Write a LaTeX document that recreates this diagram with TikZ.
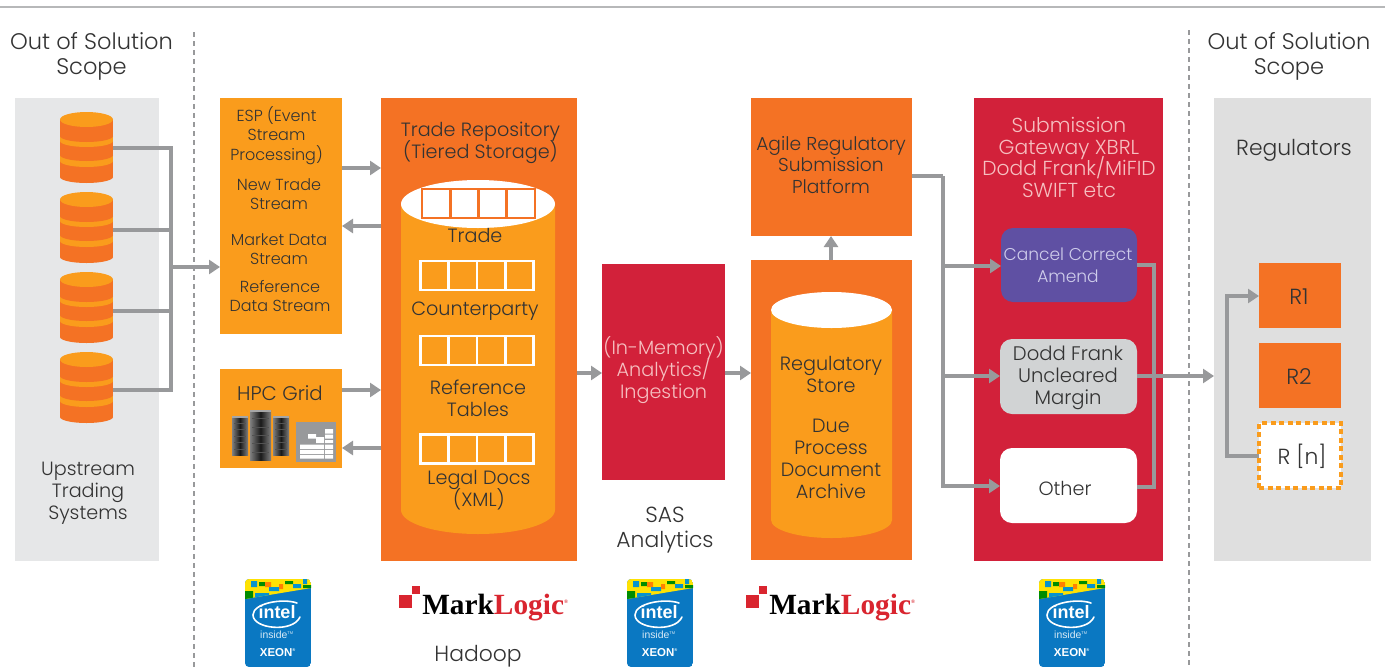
\documentclass[tikz,border=0pt]{standalone}
\usepackage{fontspec}
\setmainfont{Poppins Light}
\newfontfamily\logofont{Liberation Serif}
\newfontfamily\badgefont{Liberation Sans}
\usetikzlibrary{arrows.meta}
\definecolor{cOrange}{HTML}{F47224}
\definecolor{cAmber}{HTML}{FA9C1C}
\definecolor{cCrimson}{HTML}{D2213A}
\definecolor{cPanelA}{HTML}{E6E7E8}
\definecolor{cPanelB}{HTML}{DFDFDF}
\definecolor{cLine}{HTML}{98999B}
\definecolor{cText}{HTML}{333333}
\definecolor{cPink}{HTML}{F6BFC0}
\definecolor{cPurple}{HTML}{5F50A3}
\definecolor{cSilver}{HTML}{D1D3D4}
\definecolor{cLav}{HTML}{CFCDEB}
\definecolor{cBlue}{HTML}{0A78C2}
\definecolor{cLogoRed}{HTML}{D9252F}
\newlength\pu \setlength\pu{.75pt}
\newcommand{\txtA}{\fontsize{16.4}{18.75}\selectfont}
\newcommand{\txtB}{\fontsize{14.4}{16.4}\selectfont}
\newcommand{\txtC}{\fontsize{12}{14.4}\selectfont}
\newcommand{\rackw}{16}
\newcommand{\rackh}{39}
\tikzset{
 x=.75pt,y=-.75pt,
 panelbox/.style={anchor=north west,inner sep=0pt,outer sep=0pt},
 lab/.style={inner sep=0pt,outer sep=0pt,align=center,text=cText,font=\txtB,execute at begin node={\lineskiplimit=-30pt\relax}},
 conn/.style={draw=cLine,line width=2.3pt,line join=miter},
 arrowed/.style={conn,-{Triangle[length=8.25pt,width=10.5pt]}},
 tabgrid/.style={line width=2pt},
 dbstack/.pic={
   \fill[cOrange] (0,44) rectangle (53,65);
   \fill[cOrange] (0,65) arc[start angle=180,end angle=360,x radius=26.5,y radius=-6] -- cycle;
   \fill[cAmber] (0,29) rectangle (53,49);
   \fill[cAmber] (0,49) arc[start angle=180,end angle=360,x radius=26.5,y radius=-6] -- cycle;
   \fill[cOrange] (0,25) rectangle (53,43);
   \fill[cOrange] (0,43) arc[start angle=180,end angle=360,x radius=26.5,y radius=-6] -- cycle;
   \fill[cAmber] (0,10) rectangle (53,29);
   \fill[cAmber] (0,29) arc[start angle=180,end angle=360,x radius=26.5,y radius=-6] -- cycle;
   \fill[cOrange] (0,7.5) rectangle (53,24);
   \fill[cOrange] (0,24) arc[start angle=180,end angle=360,x radius=26.5,y radius=-6] -- cycle;
   \fill[cAmber] (26.5,7.5) ellipse[x radius=26.5,y radius=7.5];
 },
 tabrow/.pic={
   \draw[tabgrid,pic actions] (0,0) rectangle (113,29);
   \draw[tabgrid,pic actions] (28.25,0) -- (28.25,29) (56.5,0) -- (56.5,29) (84.75,0) -- (84.75,29);
 },
 rackunit/.pic={
   \fill[left color=black!50,right color=black!50,middle color=black!90] (0,0) rectangle (\rackw,\rackh);
   \fill[black!35] (0,0) rectangle (\rackw,1.5);
   \foreach \k in {1,...,5}{\fill[black!68] (2,\k*\rackh/6) rectangle (\rackw-2,\k*\rackh/6+1);}
 },
 xeonbadge/.pic={
   \begin{scope}
   \clip[rounded corners=3pt] (0,0) rectangle (66,88);
   \fill[cBlue] (0,0) rectangle (66,88);
   \clip (0,0) -- (66,0) -- (66,9) -- (0,20) -- cycle;
   \fill[yellow!85!orange] (0,0) rectangle (66,20);
   \fill[green!55!black] (0,12) rectangle (8,20) (14,3) rectangle (20,7) (40,2) rectangle (48,5) (58,6) rectangle (66,9);
   \fill[cBlue!80!cyan] (6,2) rectangle (12,8) (24,8) rectangle (34,12) (48,5) rectangle (56,9) (10,14) rectangle (24,18) (58,0) rectangle (62,5);
   \fill[orange] (20,3) rectangle (26,8) (34,5) rectangle (38,10);
   \end{scope}
   \draw[white,line width=1.2pt,line cap=round] (52,24) .. controls (38,19) and (8,24) .. (8,36) .. controls (8,50) and (48,54) .. (55,38);
   \node[inner sep=0pt,text=white,font=\badgefont\bfseries\fontsize{13.5}{14}\selectfont] (-w) at (32,33) {intel};
   \node[inner sep=0pt,text=white!85!cBlue,font=\badgefont\fontsize{7.8}{8}\selectfont] (-i) at (32,56) {inside\textsuperscript{\fontsize{3}{3}\selectfont TM}};
   \node[inner sep=0pt,text=white,font=\badgefont\bfseries\fontsize{8.6}{9}\selectfont] (-x) at (33,74) {XEON\textsuperscript{\fontsize{3}{3}\selectfont ®}};
 },
 mllogo/.pic={
   \fill[cLogoRed] (0,9) rectangle (13,22);
   \fill[cLogoRed] (13,0) rectangle (21,8);
   \node[anchor=base west,inner sep=0pt,font=\logofont\bfseries\fontsize{22}{23}\selectfont] (-m) at (23,28) {Mark\textcolor{cLogoRed}{Logic}\textcolor{cLogoRed}{\textsuperscript{\fontsize{4}{4}\selectfont ®}}};
 },
}
\begin{document}
\begin{tikzpicture}
\useasboundingbox (0,0) rectangle (1385,668);
\fill[white] (0,0) rectangle (1385,668);
% rules
\coordinate (ruleL) at (0,7); \coordinate (ruleR) at (1385,7);
\draw[cLine!70,line width=1.9pt] (ruleL) -- (ruleR);
\coordinate (d1a) at (194,32); \coordinate (d1b) at (194,668);
\coordinate (d2a) at (1189,30); \coordinate (d2b) at (1189,668);
% panels
\node[panelbox,fill=cPanelA,minimum width=144\pu,minimum height=463\pu] (upp) at (15,98) {};
\node[panelbox,fill=cPanelB,minimum width=157\pu,minimum height=463\pu] (regp) at (1214,98) {};
\draw[cLine,line width=2.2pt,dash pattern=on 5\pu off 4\pu] (d1a) -- (d1b);
\draw[cLine,line width=2.2pt,dash pattern=on 5\pu off 4\pu] (d2a) -- (d2b);
\node[lab,font=\fontsize{16.9}{18.75}\selectfont] (oosl) at (91.5,56.5) {Out of Solution\\Scope};
\node[lab,font=\fontsize{16.9}{18.75}\selectfont] (oosr) at (1289,56.5) {Out of Solution\\Scope};
% stacks
\foreach \yy in {112,192,272,352}{ \pic at (60,\yy) {dbstack}; }
\coordinate (s1) at (113,148); \coordinate (s2) at (113,230); \coordinate (s3) at (113,311); \coordinate (s4) at (113,390);
\coordinate (bus) at (171,267);
\node[lab] (ups) at (88,493) {Upstream\\Trading\\Systems};
% boxes
\node[panelbox,fill=cAmber,minimum width=122\pu,minimum height=236\pu] (esp) at (220,98) {};
\node[panelbox,fill=cAmber,minimum width=122\pu,minimum height=99\pu] (hpc) at (220,369) {};
\node[panelbox,fill=cOrange,minimum width=196\pu,minimum height=463\pu] (repo) at (381,98) {};
\node[panelbox,fill=cCrimson,minimum width=123\pu,minimum height=216\pu] (sas) at (602,264) {};
\node[panelbox,fill=cOrange,minimum width=161\pu,minimum height=300\pu] (store) at (751,260) {};
\node[panelbox,fill=cOrange,minimum width=161\pu,minimum height=138\pu] (agile) at (751,98) {};
\node[panelbox,fill=cCrimson,minimum width=189\pu,minimum height=463\pu] (gate) at (974,98) {};
\node[panelbox,fill=cPurple,rounded corners=9pt,minimum width=136\pu,minimum height=74\pu] (cancel) at (1001,228) {};
\node[panelbox,fill=cSilver,rounded corners=9pt,minimum width=137\pu,minimum height=75\pu] (dodd) at (1000,339) {};
\node[panelbox,fill=white,rounded corners=9pt,minimum width=137\pu,minimum height=75\pu] (other) at (1000,448) {};
\node[panelbox,fill=cOrange,minimum width=82\pu,minimum height=65\pu] (r1) at (1259,263) {};
\node[panelbox,fill=cOrange,minimum width=82\pu,minimum height=65\pu] (r2) at (1259,343) {};
\node[panelbox,fill=white,draw=cAmber,line width=2.4pt,dash pattern=on 5\pu off 3.5\pu,minimum width=82\pu,minimum height=65\pu] (rn) at (1259,423) {};
% ESP text
\node[lab,font=\txtC] (t1) at (276.5,135.5) {ESP (Event\\Stream\\Processing)};
\node[lab,font=\txtC] (t2) at (279,194) {New Trade\\Stream};
\node[lab,font=\txtC] (t3) at (279,249.5) {Market Data\\Stream};
\node[lab,font=\txtC] (t4) at (280,296) {Reference\\Data Stream};
\node[lab,font=\fontsize{14.8}{16}\selectfont] (t5) at (280,393) {HPC Grid};
% servers
\renewcommand{\rackw}{16}\renewcommand{\rackh}{39}
\pic at (232,416) {rackunit};
\pic at (273,416) {rackunit};
\renewcommand{\rackw}{21}\renewcommand{\rackh}{50}
\pic at (250,410) {rackunit};
% chart tile
\fill[cLine] (296,422) rectangle (336,462);
\fill[white] (325,429) rectangle (333,433.5) (325,434.5) rectangle (333,438.5)
 (308,434) rectangle (316,438.5) (316,437) rectangle (324,443) (325,440) rectangle (333,443)
 (300,444.5) rectangle (324,449) (325,444.5) rectangle (333,449)
 (300,450) rectangle (324,454) (325,450) rectangle (333,454)
 (300,455) rectangle (324,458.5) (325,455) rectangle (333,458.5);
% repo
\node[lab] (t6) at (480.5,143) {Trade Repository\\(Tiered Storage)};
\fill[cAmber] (401,204) -- (401,510) arc[start angle=180,end angle=360,x radius=77,y radius=-24] -- (555,204) -- cycle;
\fill[white] (478,204) ellipse[x radius=77,y radius=24];
\pic[draw=cOrange] at (422,189) {tabrow};
\pic[draw=white] at (420.5,261) {tabrow};
\pic[draw=white] at (420.5,336) {tabrow};
\pic[draw=white] at (420.5,434.5) {tabrow};
\node[lab] (t7) at (475,235) {Trade};
\node[lab] (t8) at (475,311) {Counterparty};
\node[lab] (t9) at (478,398.5) {Reference\\Tables};
\node[lab] (t10) at (479,490.5) {Legal Docs\\(XML)};
% sas
\node[lab,text=cPink] (t11) at (663.5,370) {(In-Memory)\\Analytics/\\Ingestion};
\node[lab,font=\txtA] (t12) at (665,530.5) {SAS\\Analytics};
% store
\fill[cAmber] (771,310) -- (771,520) arc[start angle=180,end angle=360,x radius=60.5,y radius=-18] -- (892,310) -- cycle;
\fill[white] (831.5,310) ellipse[x radius=60.5,y radius=18];
\node[lab] (t13) at (831,374.5) {Regulatory\\Store};
\node[lab] (t14) at (831,459) {Due\\Process\\Document\\Archive};
\node[lab,font=\fontsize{14}{16.4}\selectfont] (t15) at (831,165) {Agile Regulatory\\Submission\\Platform};
% gateway
\node[lab,text=cPink,font=\fontsize{15.2}{16.2}\selectfont] (t16) at (1069,157.5) {Submission\\Gateway XBRL\\Dodd Frank/MiFID\\SWIFT etc};
\node[lab,text=cLav,font=\fontsize{12.8}{16.6}\selectfont] (t17) at (1068,265.5) {Cancel Correct\\Amend};
\node[lab,font=\fontsize{14.7}{16.4}\selectfont] (t18) at (1068,378) {Dodd Frank\\Uncleared\\Margin};
\node[lab] (t19) at (1065,488) {Other};
% regulators
\node[lab,font=\txtA] (t20) at (1294,150) {Regulators};
\node[lab,font=\txtA] (t21) at (1299,297) {R1};
\node[lab,font=\txtA] (t22) at (1299,377) {R2};
\node[lab,font=\txtA] (t23) at (1302,456) {R [n]};
% connectors
\draw[conn] (s1) -| (bus);
\draw[conn] (s2) -| (bus);
\draw[conn] (s3) -| (bus);
\draw[conn] (s4) -| (bus);
\draw[arrowed] (bus) -- (esp.west |- bus);
\draw[arrowed] (esp.east |- 0,168) -- (repo.west |- 0,168);
\draw[arrowed] (repo.west |- 0,226) -- (esp.east |- 0,226);
\draw[arrowed] (hpc.east |- 0,390) -- (repo.west |- 0,390);
\draw[arrowed] (repo.west |- 0,448) -- (hpc.east |- 0,448);
\draw[arrowed] (repo.east |- 0,373) -- (sas.west |- 0,373);
\draw[arrowed] (sas.east |- 0,373) -- (store.west |- 0,373);
\draw[arrowed] (store.north -| 831,0) -- (agile.south -| 831,0);
\coordinate (jv) at (943,176);
\draw[conn] (agile.east |- jv) -- (jv);
\draw[arrowed] (jv) |- (other.west |- 0,486);
\draw[arrowed] (jv |- 0,266) -- (cancel.west |- 0,266);
\draw[arrowed] (jv |- 0,376) -- (dodd.west |- 0,376);
\coordinate (jr) at (1154,265);
\draw[conn] (cancel.east |- jr) -- (jr) |- (other.east |- 0,487);
\draw[arrowed] (dodd.east |- 0,376) -- (regp.west |- 0,376);
\draw[arrowed] (rn.west |- 0,456) -| (1227,296) -- (r1.west |- 0,296);
% logos
\pic (b1) at (245,579) {xeonbadge};
\pic (b2) at (627,579) {xeonbadge};
\pic (b3) at (1039,579) {xeonbadge};
\pic (m1) at (399,586) {mllogo};
\pic (m2) at (746,586) {mllogo};
\node[lab,font=\txtA] (t24) at (478,656.5) {Hadoop};
\end{tikzpicture}
\end{document}
